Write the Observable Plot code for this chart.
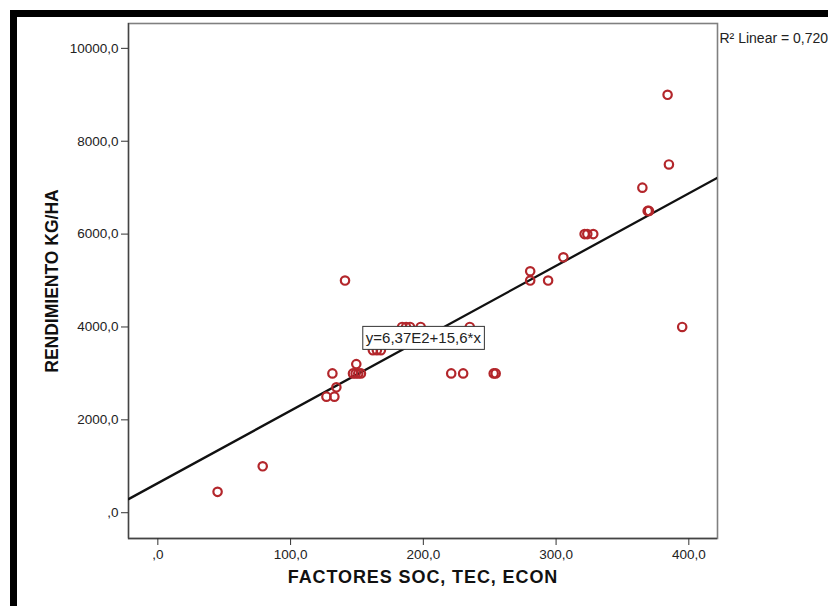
<!DOCTYPE html>
<html>
<head>
<meta charset="utf-8">
<script src="https://cdn.jsdelivr.net/npm/d3@7"></script>
<script src="https://cdn.jsdelivr.net/npm/@observablehq/plot@0.6"></script>
<style>
  html, body { margin: 0; padding: 0; background: #fff; }
  #wrap { position: relative; width: 828px; height: 606px; overflow: hidden; }
  #border { position: absolute; left: 10px; top: 10px; width: 900px; height: 700px;
            border-left: 7px solid #000; border-top: 7px solid #000; pointer-events: none; }
  #chart { position: absolute; left: 0; top: 0; }
</style>
</head>
<body>
<div id="wrap"><div id="chart"></div><div id="border"></div></div>
<script>
// Data
const factores = [45, 79, 127, 133, 134.5, 131.5, 147, 149, 151, 153, 149.5, 141,
  162, 165, 168, 184, 187, 190, 198, 235, 221, 230, 253, 254.5,
  280.5, 280.5, 294, 305.5, 321.5, 323.5, 328, 365, 369, 370, 384, 385, 395];
const rendimiento = [450, 1000, 2500, 2500, 2700, 3000, 3000, 3000, 3000, 3000, 3200, 5000,
  3500, 3500, 3500, 4000, 4000, 4000, 4000, 4000, 3000, 3000, 3000, 3000,
  5200, 5000, 5000, 5500, 6000, 6000, 6000, 7000, 6500, 6500, 9000, 7500, 4000];

// Fit line stated in the chart
const intercept = 637;
const slope = 15.6;
const equationLabel = "y=6,37E2+15,6*x";
const equationPos = [200, 3750];
const r2Label = "R² Linear = 0,720";

const xTicks = [0, 100, 200, 300, 400];
const yTicks = [0, 2000, 4000, 6000, 8000, 10000];
const xDomain = [-22.1, 421.6];
const yDomain = [-555, 10535];
const xTitle = "FACTORES SOC, TEC, ECON";
const yTitle = "RENDIMIENTO KG/HA";

const points = factores.map((x, i) => ({x, y: rendimiento[i]}));
const fitLine = xDomain.map(x => ({x, y: intercept + slope * x}));
const fmt = v => (v === 0 ? ",0" : v + ",0");

const plot = Plot.plot({
  width: 828,
  height: 606,
  marginLeft: 128,
  marginTop: 23,
  marginRight: 111,
  marginBottom: 68,
  style: {fontFamily: "'Liberation Sans', Arial, sans-serif", background: "#fff", color: "#222"},
  x: {domain: xDomain, ticks: xTicks},
  y: {domain: yDomain, ticks: yTicks},
  marks: [
    Plot.frame({stroke: "#808080", strokeWidth: 1.6}),
    Plot.ruleX([xDomain[0]], {stroke: "#444", strokeWidth: 1.3}),
    Plot.ruleY([yDomain[0]], {stroke: "#444", strokeWidth: 1.3}),
    Plot.axisX({ticks: xTicks, tickFormat: fmt, tickSize: 7, tickPadding: 4, fontSize: 13.5, label: null, stroke: "#333"}),
    Plot.axisY({ticks: yTicks, tickFormat: fmt, tickSize: 7, tickPadding: 3, fontSize: 13.5, label: null, stroke: "#333"}),
    Plot.line(fitLine, {x: "x", y: "y", stroke: "#111", strokeWidth: 2.3, clip: true}),
    Plot.dot(points, {x: "x", y: "y", r: 4.2, stroke: "#b3262b", strokeWidth: 2.2, fill: "none"}),
    Plot.text([equationLabel], {x: () => equationPos[0], y: () => equationPos[1], text: d => d,
      fontSize: 15, fill: "#222"}),
    Plot.text([r2Label], {frameAnchor: "top-right", text: d => d, textAnchor: "start",
      dx: 2, dy: 10, fontSize: 14, fill: "#222"}),
    Plot.text([xTitle], {frameAnchor: "bottom", text: d => d, dy: 44, fontSize: 18,
      fontWeight: "bold", fill: "#111"}),
    Plot.text([yTitle], {frameAnchor: "left", text: d => d, textAnchor: "middle", dx: -76, rotate: -90,
      fontSize: 17.5, fontWeight: "bold", fill: "#111"})
  ]
});

document.getElementById("chart").appendChild(plot);

const texts = Array.from(plot.querySelectorAll("text"));
// White box with border behind the equation label
const eq = texts.find(t => t.textContent === equationLabel);
if (eq) {
  const bb = eq.getBBox();
  const rect = document.createElementNS("http://www.w3.org/2000/svg", "rect");
  rect.setAttribute("x", bb.x - 3);
  rect.setAttribute("y", bb.y - 3);
  rect.setAttribute("width", bb.width + 6);
  rect.setAttribute("height", bb.height + 6);
  rect.setAttribute("fill", "#fff");
  rect.setAttribute("stroke", "#333");
  rect.setAttribute("stroke-width", "1");
  const tr = eq.getAttribute("transform");
  if (tr) rect.setAttribute("transform", tr);
  eq.parentNode.insertBefore(rect, eq);
}
// Slightly wider letter spacing on the x title, as in the reference
const xt = texts.find(t => t.textContent === xTitle);
if (xt) xt.setAttribute("letter-spacing", "0.9");
</script>
</body>
</html>
